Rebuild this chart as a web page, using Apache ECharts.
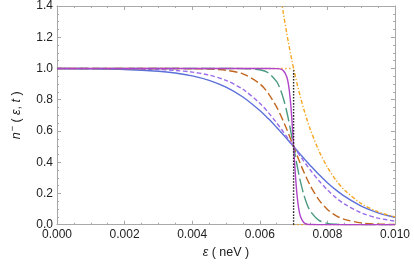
<!DOCTYPE html>
<html><head><meta charset="utf-8">
<script src="https://cdn.jsdelivr.net/npm/echarts@6/dist/echarts.min.js"></script>
<style>html,body{margin:0;padding:0;background:#fff}#c{width:414px;height:266px}</style>
</head><body><div id="c"></div>
<script>
// energy samples (neV)
const energy = [0, 0.001, 0.002, 0.003, 0.0035, 0.004, 0.0045, 0.005, 0.0055, 0.006, 0.00625, 0.0065, 0.0066, 0.0067, 0.0068, 0.00685, 0.0069, 0.00695, 0.007, 0.00705, 0.0071, 0.00715, 0.0072, 0.0073, 0.0074, 0.0075, 0.00775, 0.008, 0.00825, 0.0085, 0.009, 0.0095, 0.01];
// occupation curves
const nBlue = [0.9991, 0.9975, 0.9933, 0.9820, 0.9707, 0.9526, 0.9241, 0.8808, 0.8176, 0.7311, 0.6792, 0.6225, 0.5987, 0.5744, 0.5498, 0.5374, 0.5250, 0.5125, 0.5, 0.4875, 0.4750, 0.4626, 0.4502, 0.4256, 0.4013, 0.3775, 0.3208, 0.2689, 0.2227, 0.1824, 0.1192, 0.0759, 0.0474];
const nPurple = [0.9998, 0.9994, 0.9981, 0.9933, 0.9876, 0.9770, 0.9579, 0.9241, 0.8670, 0.7773, 0.7186, 0.6514, 0.6225, 0.5927, 0.5622, 0.5467, 0.5312, 0.5156, 0.5, 0.4844, 0.4688, 0.4533, 0.4378, 0.4073, 0.3775, 0.3486, 0.2814, 0.2227, 0.1733, 0.1330, 0.0759, 0.0421, 0.0230];
const nBrown = [1.0, 1.0, 1.0, 0.9999, 0.9996, 0.9987, 0.9961, 0.9884, 0.9656, 0.9022, 0.8411, 0.7523, 0.7087, 0.6608, 0.6093, 0.5826, 0.5553, 0.5278, 0.5, 0.4722, 0.4447, 0.4174, 0.3907, 0.3392, 0.2913, 0.2477, 0.1589, 0.0978, 0.0585, 0.0344, 0.0116, 0.0039, 0.0013];
const nGreen = [1, 1, 1, 1, 1, 1, 1, 0.9999, 0.9992, 0.9915, 0.9727, 0.9154, 0.8704, 0.8067, 0.7216, 0.6713, 0.6168, 0.5593, 0.5, 0.4407, 0.3832, 0.3287, 0.2784, 0.1933, 0.1296, 0.0846, 0.0273, 0.0085, 0.0026, 0.0008, 0.0001, 0, 0];
const nMagenta = [1, 1, 1, 1, 1, 1, 1, 1, 1, 1, 1, 0.999, 0.997, 0.986, 0.946, 0.895, 0.807, 0.671, 0.5, 0.329, 0.193, 0.105, 0.054, 0.014, 0.003, 0.001, 0, 0, 0, 0, 0, 0, 0];
const nClassical = [null, null, null, null, null, null, null, null, null, null, null, null, 1.4918, 1.3499, 1.2214, 1.1618, 1.1052, 1.0513, 1, 0.9512, 0.9048, 0.8607, 0.8187, 0.7408, 0.6703, 0.6065, 0.4724, 0.3679, 0.2865, 0.2231, 0.1353, 0.0821, 0.0498];
// zero-temperature step and Fermi level
const stepX = [0, 0.007, 0.007, 0.01];
const stepY = [1, 1, 0, 0];
const fermiX = [0.007, 0.007];
const fermiY = [0, 1];

const font = 'Liberation Sans, Arial, sans-serif';
const frame = '#a8a8a8';
const txt = '#222';
function pairs(ys) { const out = []; energy.forEach((x, i) => { if (ys[i] != null) out.push([x, ys[i]]); }); return out; }

const chart = echarts.init(document.getElementById('c'), null, {renderer: 'canvas'});
function line(name, data, color, type, z) {
  return {name, type: 'line', data, showSymbol: false, smooth: 0.3, clip: true, z: z || 2,
    lineStyle: {color, width: 1.4, type}, emphasis: {disabled: true}};
}
const axisCommon = {
  axisLine: {show: true, onZero: false, lineStyle: {color: frame, width: 1}},
  axisTick: {show: true, inside: true, length: 4, lineStyle: {color: frame}},
  minorTick: {show: true, splitNumber: 4, length: 2, lineStyle: {color: frame}},
  splitLine: {show: false}
};
chart.setOption({
  animation: false,
  grid: {left: 42.7, right: 19, top: 6, bottom: 41.3, containLabel: false},
  xAxis: [
    Object.assign({type: 'value', min: 0, max: 0.01, interval: 0.002, position: 'bottom',
      axisLabel: {formatter: v => v.toFixed(3), color: txt, fontSize: 12, fontFamily: font, margin: 4},
      name: '{i|ε}{n| ( neV )}', nameLocation: 'middle', nameGap: 21,
      nameTextStyle: {color: txt, fontSize: 12.5, fontFamily: font, rich: {i: {fontStyle: 'italic', fontSize: 12.5, fontFamily: font, color: txt}, n: {fontSize: 12.5, fontFamily: font, color: txt}}}
    }, axisCommon),
    Object.assign({type: 'value', min: 0, max: 0.01, interval: 0.002, position: 'top', axisLabel: {show: false}}, axisCommon)
  ],
  yAxis: [
    Object.assign({type: 'value', min: 0, max: 1.4, interval: 0.2, position: 'left',
      axisLabel: {formatter: v => v.toFixed(1), color: txt, fontSize: 12, fontFamily: font, margin: 4},
      name: '{i|n}{s|−}{n| ( }{i|ε}{n|, }{i|t}{n| )}', nameLocation: 'middle', nameGap: 31, nameRotate: 90,
      nameTextStyle: {color: txt, fontSize: 12.5, fontFamily: font, rich: {
        i: {fontStyle: 'italic', fontSize: 12.5, fontFamily: font, color: txt, lineHeight: 18},
        s: {fontSize: 9, fontFamily: font, color: txt, verticalAlign: 'top', lineHeight: 18, padding: [0, 0, 0, 1]},
        n: {fontSize: 12.5, fontFamily: font, color: txt, lineHeight: 18}}}
    }, axisCommon),
    Object.assign({type: 'value', min: 0, max: 1.4, interval: 0.2, position: 'right', axisLabel: {show: false}}, axisCommon)
  ],
  series: [
    line('T0', stepX.map((x, i) => [x, stepY[i]]).slice(0, 2), '#f5a623', [1.5, 2.5], 1),
    line('T0b', stepX.map((x, i) => [x, stepY[i]]).slice(2), '#f5a623', [1.5, 2.5], 1),
    line('fermi', fermiX.map((x, i) => [x, fermiY[i]]), '#222', [1.5, 1.5], 6),
    line('classical', pairs(nClassical), '#f5a623', [4, 2, 1.2, 2], 3),
    line('blue', pairs(nBlue), '#5b70d8', 'solid', 2),
    line('purple', pairs(nPurple), '#9a6cec', [4.5, 2.5], 2),
    line('brown', pairs(nBrown), '#c2661d', [8, 3.5], 2),
    line('green', pairs(nGreen), '#4a9a82', [14, 4], 2),
    line('magenta', pairs(nMagenta), '#b044c8', 'solid', 2)
  ]
});
</script></body></html>
